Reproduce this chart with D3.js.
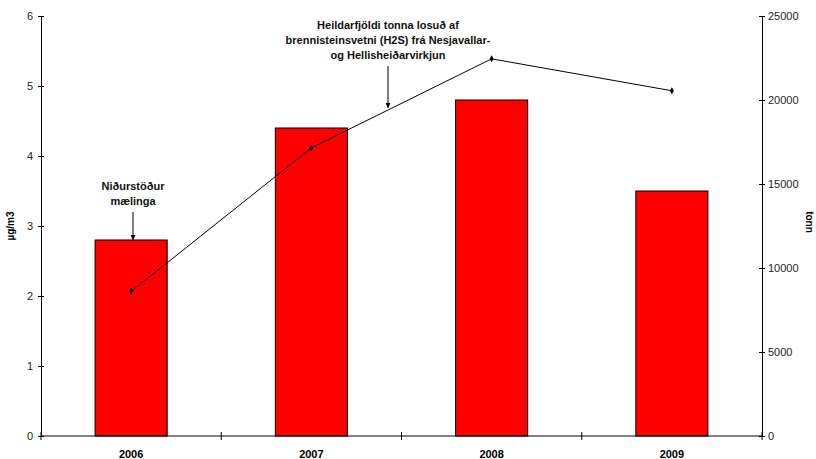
<!DOCTYPE html>
<html>
<head>
<meta charset="utf-8">
<script src="https://cdn.jsdelivr.net/npm/d3@7"></script>
<style>
  body { margin: 0; background: #fff; }
  text { font-family: "Liberation Sans", Arial, sans-serif; }
</style>
</head>
<body>
<div id="chart"></div>
<script>
const years = ["2006", "2007", "2008", "2009"];
const concentration = [2.8, 4.4, 4.8, 3.5];       // µg/m3, bars
const emissions = [8600, 17150, 22450, 20550];     // tonn, line
const leftTicks = [0, 1, 2, 3, 4, 5, 6];
const rightTicks = [0, 5000, 10000, 15000, 20000, 25000];

const W = 816, H = 459;
const MARGINS = {top: 16, right: 54, bottom: 23, left: 41};
const innerW = W - MARGINS.left - MARGINS.right;
const innerH = H - MARGINS.top - MARGINS.bottom;

const svg = d3.select("#chart")
    .append("svg")
        .attr("width", W)
        .attr("height", H)
    .append("g")
        .attr("transform", `translate(${MARGINS.left}, ${MARGINS.top})`);

const x = d3.scaleBand()
    .domain(years)
    .range([0, innerW])
    .paddingInner(0.6)
    .paddingOuter(0.3);

const yLeft = d3.scaleLinear().domain([0, 6]).range([innerH, 0]);
const yRight = d3.scaleLinear().domain([0, 25000]).range([innerH, 0]);

// bars
svg.selectAll("rect.bar")
    .data(concentration)
    .enter().append("rect")
        .attr("class", "bar")
        .attr("x", (d, i) => x(years[i]))
        .attr("y", d => yLeft(d))
        .attr("width", x.bandwidth())
        .attr("height", d => innerH - yLeft(d))
        .attr("fill", "#ff0000")
        .attr("stroke", "#000")
        .attr("stroke-width", 1);

// axes
const leftAxis = svg.append("g")
    .call(d3.axisLeft(yLeft).tickValues(leftTicks).tickFormat(d3.format("d")).tickSize(3).tickPadding(5));
leftAxis.selectAll(".tick line").attr("x2", -3).attr("x1", 3);

const rightAxis = svg.append("g")
    .attr("transform", `translate(${innerW}, 0)`)
    .call(d3.axisRight(yRight).tickValues(rightTicks).tickFormat(d3.format("d")).tickSize(3).tickPadding(3));
rightAxis.selectAll(".tick line").attr("x1", -3).attr("x2", 3);

// category boundaries on the x axis
const boundaries = d3.range(years.length + 1).map(i => i * x.step());
const bottomAxis = svg.append("g")
    .attr("transform", `translate(0, ${innerH})`);
bottomAxis.append("line")
    .attr("x1", 0).attr("x2", innerW)
    .attr("stroke", "#000");
bottomAxis.selectAll("line.tk")
    .data(boundaries)
    .enter().append("line")
        .attr("class", "tk")
        .attr("x1", d => d)
        .attr("x2", d => d)
        .attr("y1", -4).attr("y2", 4)
        .attr("stroke", "#000");
bottomAxis.selectAll("text")
    .data(years)
    .enter().append("text")
        .attr("x", d => x(d) + x.bandwidth() / 2)
        .attr("y", 22)
        .attr("text-anchor", "middle")
        .attr("font-size", 11)
        .attr("font-weight", "bold")
        .text(d => d);

[leftAxis, rightAxis].forEach(a => {
    a.select(".domain").attr("stroke", "#000");
    a.selectAll(".tick line").attr("stroke", "#000");
    a.selectAll(".tick text")
        .attr("font-size", 11)
        .attr("font-family", "Liberation Sans, Arial, sans-serif")
        .attr("fill", "#222");
});

// axis titles
svg.append("text")
    .attr("transform", `translate(${-27}, ${innerH / 2}) rotate(-90)`)
    .attr("text-anchor", "middle")
    .attr("font-size", 10)
    .attr("font-weight", "bold")
    .text("µg/m3");

svg.append("text")
    .attr("transform", `translate(${innerW + 44}, ${innerH / 2 - 4}) rotate(90)`)
    .attr("text-anchor", "middle")
    .attr("font-size", 10)
    .attr("font-weight", "bold")
    .text("tonn");

// emissions line
const line = d3.line()
    .x((d, i) => x(years[i]) + x.bandwidth() / 2)
    .y(d => yRight(d));

svg.append("path")
    .datum(emissions)
    .attr("fill", "none")
    .attr("stroke", "#000")
    .attr("stroke-width", 1)
    .attr("d", line);

svg.selectAll("path.marker")
    .data(emissions)
    .enter().append("path")
        .attr("class", "marker")
        .attr("d", d3.symbol(d3.symbolDiamond, 14))
        .attr("transform", (d, i) => `translate(${x(years[i]) + x.bandwidth() / 2}, ${yRight(d)})`)
        .attr("fill", "#000");

// annotations
svg.append("defs").append("marker")
    .attr("id", "arrow")
    .attr("viewBox", "0 0 6 6")
    .attr("refX", 6).attr("refY", 3)
    .attr("markerWidth", 5).attr("markerHeight", 5)
    .attr("orient", "auto")
    .append("path").attr("d", "M0,0L6,3L0,6Z").attr("fill", "#000");

function note(lines, cx, topY, arrowTo) {
    const t = svg.append("text")
        .attr("text-anchor", "middle")
        .attr("font-size", 11)
        .attr("font-weight", "bold")
        .attr("fill", "#111");
    lines.forEach((s, i) => {
        t.append("tspan").attr("x", cx).attr("y", topY + i * 15).text(s);
    });
    svg.append("line")
        .attr("x1", cx).attr("x2", cx)
        .attr("y1", topY + (lines.length - 1) * 15 + 7)
        .attr("y2", arrowTo)
        .attr("stroke", "#000")
        .attr("marker-end", "url(#arrow)");
}

note(["Niðurstöður", "mælinga"], 133 - MARGINS.left, 190 - MARGINS.top, yLeft(concentration[0]));
note(["Heildarfjöldi tonna losuð af", "brennisteinsvetni (H2S) frá Nesjavallar-", "og Hellisheiðarvirkjun"],
     388 - MARGINS.left, 29 - MARGINS.top, 108 - MARGINS.top);
</script>
</body>
</html>
